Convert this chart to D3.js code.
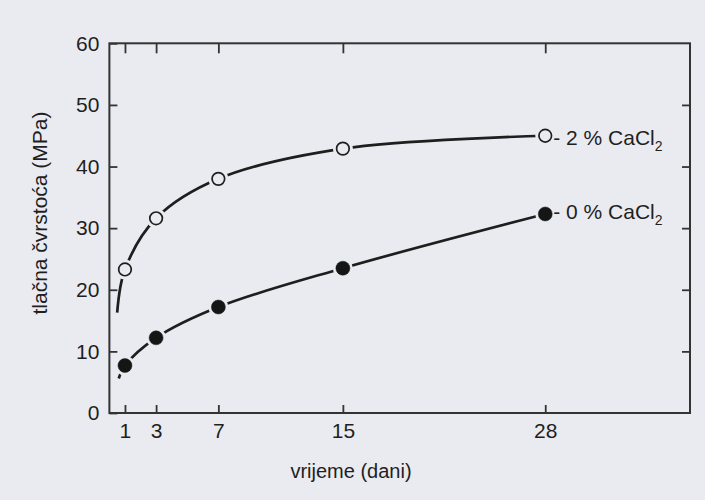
<!DOCTYPE html>
<html>
<head>
<meta charset="utf-8">
<script src="https://cdn.jsdelivr.net/npm/d3@7"></script>
<style>
body { margin: 0; background: #e9ebf0; }
svg { display: block; }
text { font-family: "Liberation Sans", Arial, sans-serif; fill: #1f1f1f; }
</style>
</head>
<body>
<svg width="705" height="500"></svg>
<script>
// data
var days = [1, 3, 7, 15, 28];
var withCaCl2 = [23.3, 31.6, 38.0, 42.9, 45.0];
var withoutCaCl2 = [7.7, 12.2, 17.2, 23.5, 32.3];
// where the drawn curves begin, left of day 1
var curveStartDay = [0.5, 0.6];
var curveStartValue = [16.3, 5.6];
var yTickValues = [0, 10, 20, 30, 40, 50, 60];
var rightTickValues = [10, 20, 30, 40, 50];
var seriesNames = ["2 % CaCl", "0 % CaCl"];
var xTitle = "vrijeme (dani)";
var yTitle = "tlačna čvrstoća (MPa)";

function chart(){
    var svg = d3.select("svg"),
        bg = "#e9ebf0",
        ink = "#1e1e1e";

    var x = d3.scaleLinear().domain([0, 37.3]).range([109.4, 690]);
    var y = d3.scaleLinear().domain([0, 60]).range([413, 43.3]);

    // axes, ticks pointing inward on all four sides
    var left = svg.append("g")
        .attr("transform", "translate(" + x(0) + ",0)")
        .call(d3.axisLeft(y).tickValues(yTickValues).tickSize(-8).tickPadding(10));
    var bottom = svg.append("g")
        .attr("transform", "translate(0," + y(0) + ")")
        .call(d3.axisBottom(x).tickValues(days).tickSize(-8).tickPadding(10));
    var top = svg.append("g")
        .attr("transform", "translate(0," + y(60) + ")")
        .call(d3.axisTop(x).tickValues(days).tickSize(-10).tickFormat(""));
    var right = svg.append("g")
        .attr("transform", "translate(" + x(37.3) + ",0)")
        .call(d3.axisRight(y).tickValues(rightTickValues).tickSize(-8).tickFormat(""));

    [left, bottom, top, right].forEach(function(g){
        g.select(".domain").remove();
        g.selectAll("line").attr("stroke", "#333").attr("stroke-width", 1.8);
        g.selectAll("text").style("font-size", "21px").attr("fill", "#1f1f1f");
    });

    svg.append("rect")
        .attr("x", x(0))
        .attr("y", y(60))
        .attr("width", x(37.3) - x(0))
        .attr("height", y(0) - y(60))
        .attr("fill", "none")
        .attr("stroke", "#333")
        .attr("stroke-width", 2);

    var line = d3.line()
        .x(function(d){ return x(d[0]); })
        .y(function(d){ return y(d[1]); })
        .curve(d3.curveCatmullRom.alpha(0.5));

    var series = [withCaCl2, withoutCaCl2].map(function(vals, i){
        return {
            name: seriesNames[i],
            open: i === 0,
            points: days.map(function(d, j){ return [d, vals[j]]; }),
            start: [curveStartDay[i], curveStartValue[i]]
        };
    });

    var labelDy = [9, 5];

    series.forEach(function(s, i){
        svg.append("path")
            .attr("d", line([s.start].concat(s.points)))
            .attr("fill", "none")
            .attr("stroke", ink)
            .attr("stroke-width", 2.7);

        // gap around each marker
        svg.selectAll(null)
            .data(s.points)
            .enter().append("circle")
            .attr("cx", function(d){ return x(d[0]); })
            .attr("cy", function(d){ return y(d[1]); })
            .attr("r", 10)
            .attr("fill", bg);

        svg.selectAll(null)
            .data(s.points)
            .enter().append("circle")
            .attr("cx", function(d){ return x(d[0]); })
            .attr("cy", function(d){ return y(d[1]); })
            .attr("r", s.open ? 6.3 : 7)
            .attr("fill", s.open ? bg : "#151515")
            .attr("stroke", ink)
            .attr("stroke-width", s.open ? 1.7 : 0.5);

        var last = s.points[s.points.length - 1];
        var t = svg.append("text")
            .attr("x", x(last[0]) + 8)
            .attr("y", y(last[1]) + labelDy[i])
            .style("font-size", "21px");
        t.append("tspan").text("- " + s.name);
        t.append("tspan").text("2").style("font-size", "14px").attr("dy", 6);
    });

    svg.append("text")
        .attr("x", 351)
        .attr("y", 478)
        .attr("text-anchor", "middle")
        .style("font-size", "20px")
        .text(xTitle);

    svg.append("text")
        .attr("transform", "translate(47,213) rotate(-90)")
        .attr("text-anchor", "middle")
        .style("font-size", "21px")
        .text(yTitle);
}

chart();
</script>
</body>
</html>
